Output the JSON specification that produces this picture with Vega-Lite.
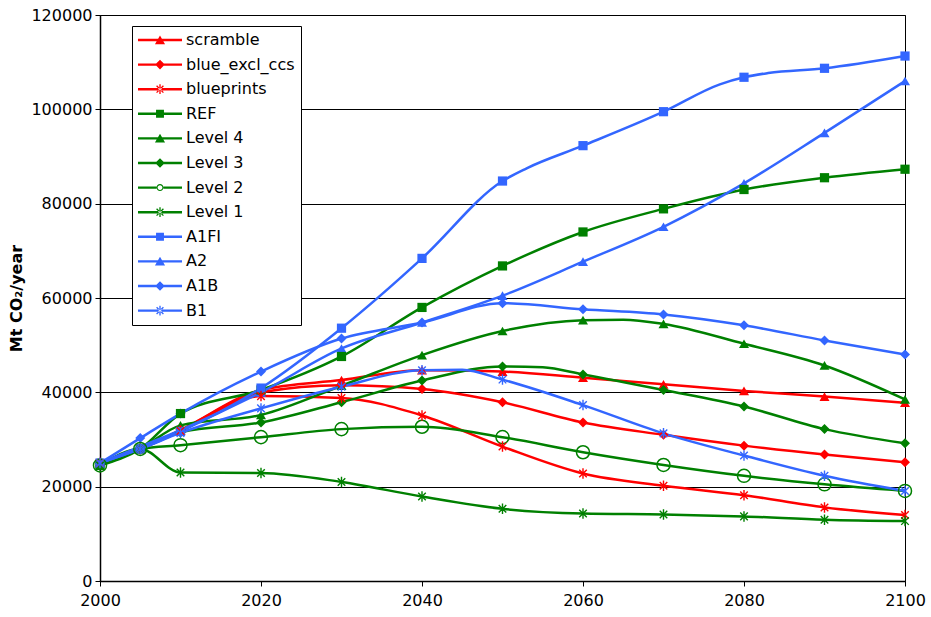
{
  "$schema": "https://vega.github.io/schema/vega-lite/v6.json",
  "width": 805,
  "height": 566,
  "autosize": {"type": "none"},
  "padding": {"left": 100, "top": 15, "right": 26, "bottom": 36},
  "config": {
    "font": "DejaVu Sans",
    "view": {"stroke": "#000", "strokeWidth": 1},
    "axis": {
      "labelFont": "DejaVu Sans",
      "labelFontSize": 16,
      "labelColor": "#000",
      "tickColor": "#000",
      "domainColor": "#000",
      "tickSize": 5,
      "gridColor": "#000",
      "gridOpacity": 1,
      "gridWidth": 1,
      "domainWidth": 1.5,
      "labelFlush": false
    }
  },
  "data": {
    "values": [
      {"series": "scramble", "year": 2000, "co2": 25000},
      {"series": "scramble", "year": 2005, "co2": 28000},
      {"series": "scramble", "year": 2010, "co2": 32000},
      {"series": "scramble", "year": 2020, "co2": 40500},
      {"series": "scramble", "year": 2030, "co2": 42600},
      {"series": "scramble", "year": 2040, "co2": 44700},
      {"series": "scramble", "year": 2050, "co2": 44400},
      {"series": "scramble", "year": 2060, "co2": 43100},
      {"series": "scramble", "year": 2070, "co2": 41700},
      {"series": "scramble", "year": 2080, "co2": 40300},
      {"series": "scramble", "year": 2090, "co2": 39100},
      {"series": "scramble", "year": 2100, "co2": 37800},

      {"series": "blue_excl_ccs", "year": 2000, "co2": 25000},
      {"series": "blue_excl_ccs", "year": 2005, "co2": 28000},
      {"series": "blue_excl_ccs", "year": 2010, "co2": 32000},
      {"series": "blue_excl_ccs", "year": 2020, "co2": 40000},
      {"series": "blue_excl_ccs", "year": 2030, "co2": 41500},
      {"series": "blue_excl_ccs", "year": 2040, "co2": 40700},
      {"series": "blue_excl_ccs", "year": 2050, "co2": 37900},
      {"series": "blue_excl_ccs", "year": 2060, "co2": 33600},
      {"series": "blue_excl_ccs", "year": 2070, "co2": 31000},
      {"series": "blue_excl_ccs", "year": 2080, "co2": 28700},
      {"series": "blue_excl_ccs", "year": 2090, "co2": 26800},
      {"series": "blue_excl_ccs", "year": 2100, "co2": 25200},

      {"series": "blueprints", "year": 2000, "co2": 25000},
      {"series": "blueprints", "year": 2005, "co2": 28000},
      {"series": "blueprints", "year": 2010, "co2": 31800},
      {"series": "blueprints", "year": 2020, "co2": 39200},
      {"series": "blueprints", "year": 2030, "co2": 38800},
      {"series": "blueprints", "year": 2040, "co2": 35100},
      {"series": "blueprints", "year": 2050, "co2": 28500},
      {"series": "blueprints", "year": 2060, "co2": 22800},
      {"series": "blueprints", "year": 2070, "co2": 20200},
      {"series": "blueprints", "year": 2080, "co2": 18200},
      {"series": "blueprints", "year": 2090, "co2": 15600},
      {"series": "blueprints", "year": 2100, "co2": 14000},

      {"series": "REF", "year": 2000, "co2": 24500},
      {"series": "REF", "year": 2005, "co2": 28000},
      {"series": "REF", "year": 2010, "co2": 35500},
      {"series": "REF", "year": 2020, "co2": 40500},
      {"series": "REF", "year": 2030, "co2": 47600},
      {"series": "REF", "year": 2040, "co2": 58000},
      {"series": "REF", "year": 2050, "co2": 66800},
      {"series": "REF", "year": 2060, "co2": 74000},
      {"series": "REF", "year": 2070, "co2": 78900},
      {"series": "REF", "year": 2080, "co2": 83000},
      {"series": "REF", "year": 2090, "co2": 85500},
      {"series": "REF", "year": 2100, "co2": 87300},

      {"series": "Level 4", "year": 2000, "co2": 24500},
      {"series": "Level 4", "year": 2005, "co2": 28000},
      {"series": "Level 4", "year": 2010, "co2": 33000},
      {"series": "Level 4", "year": 2020, "co2": 35200},
      {"series": "Level 4", "year": 2030, "co2": 41400},
      {"series": "Level 4", "year": 2040, "co2": 47900},
      {"series": "Level 4", "year": 2050, "co2": 53000},
      {"series": "Level 4", "year": 2060, "co2": 55300},
      {"series": "Level 4", "year": 2065, "co2": 55400},
      {"series": "Level 4", "year": 2070, "co2": 54500},
      {"series": "Level 4", "year": 2080, "co2": 50300},
      {"series": "Level 4", "year": 2090, "co2": 45700},
      {"series": "Level 4", "year": 2100, "co2": 38500},

      {"series": "Level 3", "year": 2000, "co2": 24500},
      {"series": "Level 3", "year": 2005, "co2": 28000},
      {"series": "Level 3", "year": 2010, "co2": 31500},
      {"series": "Level 3", "year": 2020, "co2": 33600},
      {"series": "Level 3", "year": 2030, "co2": 37900},
      {"series": "Level 3", "year": 2040, "co2": 42500},
      {"series": "Level 3", "year": 2050, "co2": 45500},
      {"series": "Level 3", "year": 2055, "co2": 45300},
      {"series": "Level 3", "year": 2060, "co2": 43800},
      {"series": "Level 3", "year": 2070, "co2": 40500},
      {"series": "Level 3", "year": 2080, "co2": 37000},
      {"series": "Level 3", "year": 2090, "co2": 32200},
      {"series": "Level 3", "year": 2100, "co2": 29200},

      {"series": "Level 2", "year": 2000, "co2": 24500},
      {"series": "Level 2", "year": 2005, "co2": 28000},
      {"series": "Level 2", "year": 2010, "co2": 28800},
      {"series": "Level 2", "year": 2020, "co2": 30500},
      {"series": "Level 2", "year": 2030, "co2": 32200},
      {"series": "Level 2", "year": 2040, "co2": 32700},
      {"series": "Level 2", "year": 2050, "co2": 30500},
      {"series": "Level 2", "year": 2060, "co2": 27300},
      {"series": "Level 2", "year": 2070, "co2": 24600},
      {"series": "Level 2", "year": 2080, "co2": 22300},
      {"series": "Level 2", "year": 2090, "co2": 20500},
      {"series": "Level 2", "year": 2100, "co2": 19100},

      {"series": "Level 1", "year": 2000, "co2": 24500},
      {"series": "Level 1", "year": 2005, "co2": 28000},
      {"series": "Level 1", "year": 2010, "co2": 23000},
      {"series": "Level 1", "year": 2020, "co2": 22900},
      {"series": "Level 1", "year": 2030, "co2": 21000},
      {"series": "Level 1", "year": 2040, "co2": 17900},
      {"series": "Level 1", "year": 2050, "co2": 15300},
      {"series": "Level 1", "year": 2060, "co2": 14300},
      {"series": "Level 1", "year": 2070, "co2": 14100},
      {"series": "Level 1", "year": 2080, "co2": 13700},
      {"series": "Level 1", "year": 2090, "co2": 13000},
      {"series": "Level 1", "year": 2100, "co2": 12700},

      {"series": "A1FI", "year": 2000, "co2": 25000},
      {"series": "A1FI", "year": 2005, "co2": 28000},
      {"series": "A1FI", "year": 2010, "co2": 31700},
      {"series": "A1FI", "year": 2020, "co2": 40900},
      {"series": "A1FI", "year": 2030, "co2": 53600},
      {"series": "A1FI", "year": 2040, "co2": 68400},
      {"series": "A1FI", "year": 2050, "co2": 84800},
      {"series": "A1FI", "year": 2053, "co2": 87500},
      {"series": "A1FI", "year": 2060, "co2": 92300},
      {"series": "A1FI", "year": 2070, "co2": 99500},
      {"series": "A1FI", "year": 2077, "co2": 105300},
      {"series": "A1FI", "year": 2080, "co2": 106800},
      {"series": "A1FI", "year": 2083, "co2": 107700},
      {"series": "A1FI", "year": 2090, "co2": 108700},
      {"series": "A1FI", "year": 2100, "co2": 111300},

      {"series": "A2", "year": 2000, "co2": 25000},
      {"series": "A2", "year": 2005, "co2": 28500},
      {"series": "A2", "year": 2010, "co2": 32000},
      {"series": "A2", "year": 2020, "co2": 40000},
      {"series": "A2", "year": 2030, "co2": 49300},
      {"series": "A2", "year": 2040, "co2": 54800},
      {"series": "A2", "year": 2050, "co2": 60500},
      {"series": "A2", "year": 2060, "co2": 67700},
      {"series": "A2", "year": 2070, "co2": 75100},
      {"series": "A2", "year": 2080, "co2": 84300},
      {"series": "A2", "year": 2090, "co2": 95000},
      {"series": "A2", "year": 2100, "co2": 106000},

      {"series": "A1B", "year": 2000, "co2": 25000},
      {"series": "A1B", "year": 2005, "co2": 30300},
      {"series": "A1B", "year": 2010, "co2": 35500},
      {"series": "A1B", "year": 2020, "co2": 44400},
      {"series": "A1B", "year": 2030, "co2": 51400},
      {"series": "A1B", "year": 2040, "co2": 54800},
      {"series": "A1B", "year": 2050, "co2": 58900},
      {"series": "A1B", "year": 2060, "co2": 57600},
      {"series": "A1B", "year": 2070, "co2": 56500},
      {"series": "A1B", "year": 2080, "co2": 54200},
      {"series": "A1B", "year": 2090, "co2": 51000},
      {"series": "A1B", "year": 2100, "co2": 48000},

      {"series": "B1", "year": 2000, "co2": 25000},
      {"series": "B1", "year": 2005, "co2": 28000},
      {"series": "B1", "year": 2010, "co2": 31400},
      {"series": "B1", "year": 2020, "co2": 36600},
      {"series": "B1", "year": 2030, "co2": 41200},
      {"series": "B1", "year": 2040, "co2": 44700},
      {"series": "B1", "year": 2045, "co2": 44800},
      {"series": "B1", "year": 2050, "co2": 42700},
      {"series": "B1", "year": 2060, "co2": 37300},
      {"series": "B1", "year": 2070, "co2": 31300},
      {"series": "B1", "year": 2080, "co2": 26600},
      {"series": "B1", "year": 2090, "co2": 22300},
      {"series": "B1", "year": 2100, "co2": 19100}
    ]
  },
  "encoding": {
    "x": {
      "field": "year",
      "type": "quantitative",
      "scale": {"domain": [2000, 2100], "nice": false, "zero": false},
      "axis": {"values": [2000, 2020, 2040, 2060, 2080, 2100], "format": "d", "grid": false, "title": null, "labelPadding": 6}
    },
    "y": {
      "field": "co2",
      "type": "quantitative",
      "scale": {"domain": [0, 120000], "nice": false},
      "axis": {
        "values": [0, 20000, 40000, 60000, 80000, 100000, 120000],
        "format": "d",
        "grid": true,
        "title": "Mt CO₂/year",
        "titleFont": "DejaVu Sans",
        "titleFontSize": 16,
        "titleFontWeight": "bold",
        "titleColor": "#000",
        "titleX": -76,
        "labelPadding": 3
      }
    }
  },
  "layer": [
    {
      "mark": {"type": "line", "interpolate": "monotone", "strokeWidth": 2.5},
      "encoding": {
        "color": {
          "field": "series",
          "type": "nominal",
          "scale": {
            "domain": ["scramble", "blue_excl_ccs", "blueprints", "REF", "Level 4", "Level 3", "Level 2", "Level 1", "A1FI", "A2", "A1B", "B1", "-"],
            "range": ["#FF0000", "#FF0000", "#FF0000", "#008000", "#008000", "#008000", "#008000", "#008000", "#3366FF", "#3366FF", "#3366FF", "#3366FF", "#000000"]
          },
          "legend": null
        }
      }
    },
    {
      "transform": [
        {"filter": "datum.year % 10 == 0 || datum.year == 2005"},
        {"filter": {"field": "series", "oneOf": ["scramble", "Level 4", "A2"]}}
      ],
      "mark": {"type": "point", "shape": "triangle-up", "filled": true, "size": 100, "opacity": 1},
      "encoding": {"color": {"field": "series", "type": "nominal", "legend": null}}
    },
    {
      "transform": [
        {"filter": "datum.year % 10 == 0 || datum.year == 2005"},
        {"filter": {"field": "series", "oneOf": ["blue_excl_ccs", "Level 3", "A1B"]}}
      ],
      "mark": {"type": "point", "shape": "diamond", "filled": true, "size": 100, "opacity": 1},
      "encoding": {"color": {"field": "series", "type": "nominal", "legend": null}}
    },
    {
      "transform": [
        {"filter": "datum.year % 10 == 0 || datum.year == 2005"},
        {"filter": {"field": "series", "oneOf": ["REF", "A1FI"]}}
      ],
      "mark": {"type": "point", "shape": "square", "filled": true, "size": 85, "opacity": 1},
      "encoding": {"color": {"field": "series", "type": "nominal", "legend": null}}
    },
    {
      "transform": [
        {"filter": "datum.year % 10 == 0 || datum.year == 2005"},
        {"filter": {"field": "series", "oneOf": ["Level 2"]}}
      ],
      "mark": {"type": "point", "shape": "circle", "filled": false, "size": 170, "strokeWidth": 1.5, "opacity": 1},
      "encoding": {"color": {"field": "series", "type": "nominal", "legend": null}}
    },
    {
      "transform": [
        {"filter": "datum.year % 10 == 0 || datum.year == 2005"},
        {"filter": {"field": "series", "oneOf": ["blueprints", "Level 1", "B1"]}}
      ],
      "mark": {"type": "point", "shape": "M0,-1V1M-0.72,-0.72L0.72,0.72M-0.72,0.72L0.72,-0.72", "filled": false, "size": 110, "strokeWidth": 1.4, "opacity": 1},
      "encoding": {"color": {"field": "series", "type": "nominal", "legend": null}}
    },
    {
      "transform": [{"filter": "datum.year == 2000"}],
      "mark": {"type": "point", "filled": true, "size": 4, "opacity": 0},
      "encoding": {
        "fill": {
          "field": "series",
          "type": "nominal",
          "scale": {
            "domain": ["scramble", "blue_excl_ccs", "blueprints", "REF", "Level 4", "Level 3", "Level 2", "Level 1", "A1FI", "A2", "A1B", "B1"],
            "range": ["#FF0000", "#FF0000", "#FF0000", "#008000", "#008000", "#008000", "#008000", "#008000", "#3366FF", "#3366FF", "#3366FF", "#3366FF"]
          },
          "legend": {
            "title": null,
            "orient": "none",
            "legendX": 32,
            "legendY": 11,
            "symbolSize": 1936,
            "clipHeight": 16,
            "rowPadding": 8.6,
            "labelFont": "DejaVu Sans",
            "labelFontSize": 16,
            "labelColor": "#000",
            "labelOffset": 4,
            "strokeColor": "#000",
            "fillColor": "#fff",
            "padding": 6,
            "symbolStrokeWidth": 0,
            "symbolOpacity": 1
          }
        },
        "shape": {
          "field": "series",
          "type": "nominal",
          "scale": {
            "domain": ["scramble", "blue_excl_ccs", "blueprints", "REF", "Level 4", "Level 3", "Level 2", "Level 1", "A1FI", "A2", "A1B", "B1"],
            "range": [
              "M-1,-0.055H1V0.055H-1Z M0,-0.21L0.23,0.19L-0.23,0.19Z",
              "M-1,-0.055H1V0.055H-1Z M0,-0.22L0.22,0L0,0.22L-0.22,0Z",
              "M-1,-0.055H1V0.055H-1Z M-0.03,-0.22H0.03V0.22H-0.03Z M-0.176,-0.134L0.134,0.176L0.176,0.134L-0.134,-0.176Z M-0.134,0.176L0.176,-0.134L0.134,-0.176L-0.176,0.134Z",
              "M-1,-0.055H1V0.055H-1Z M-0.18,-0.18H0.18V0.18H-0.18Z",
              "M-1,-0.055H1V0.055H-1Z M0,-0.21L0.23,0.19L-0.23,0.19Z",
              "M-1,-0.055H1V0.055H-1Z M0,-0.22L0.22,0L0,0.22L-0.22,0Z",
              "M-1,-0.055H-0.16V0.055H-1Z M0.16,-0.055H1V0.055H0.16Z M0.16,0A0.16,0.16 0 1,1 -0.16,0A0.16,0.16 0 1,1 0.16,0Z M0.11,0A0.11,0.11 0 1,0 -0.11,0A0.11,0.11 0 1,0 0.11,0Z",
              "M-1,-0.055H1V0.055H-1Z M-0.03,-0.22H0.03V0.22H-0.03Z M-0.176,-0.134L0.134,0.176L0.176,0.134L-0.134,-0.176Z M-0.134,0.176L0.176,-0.134L0.134,-0.176L-0.176,0.134Z",
              "M-1,-0.055H1V0.055H-1Z M-0.18,-0.18H0.18V0.18H-0.18Z",
              "M-1,-0.055H1V0.055H-1Z M0,-0.21L0.23,0.19L-0.23,0.19Z",
              "M-1,-0.055H1V0.055H-1Z M0,-0.22L0.22,0L0,0.22L-0.22,0Z",
              "M-1,-0.055H1V0.055H-1Z M-0.03,-0.22H0.03V0.22H-0.03Z M-0.176,-0.134L0.134,0.176L0.176,0.134L-0.134,-0.176Z M-0.134,0.176L0.176,-0.134L0.134,-0.176L-0.176,0.134Z"
            ]
          },
          "legend": {
            "title": null,
            "orient": "none",
            "legendX": 32,
            "legendY": 11,
            "symbolSize": 1936,
            "clipHeight": 16,
            "rowPadding": 8.6,
            "labelFont": "DejaVu Sans",
            "labelFontSize": 16,
            "labelColor": "#000",
            "labelOffset": 4,
            "strokeColor": "#000",
            "fillColor": "#fff",
            "padding": 6,
            "symbolStrokeWidth": 0,
            "symbolOpacity": 1
          }
        }
      }
    }
  ]
}
